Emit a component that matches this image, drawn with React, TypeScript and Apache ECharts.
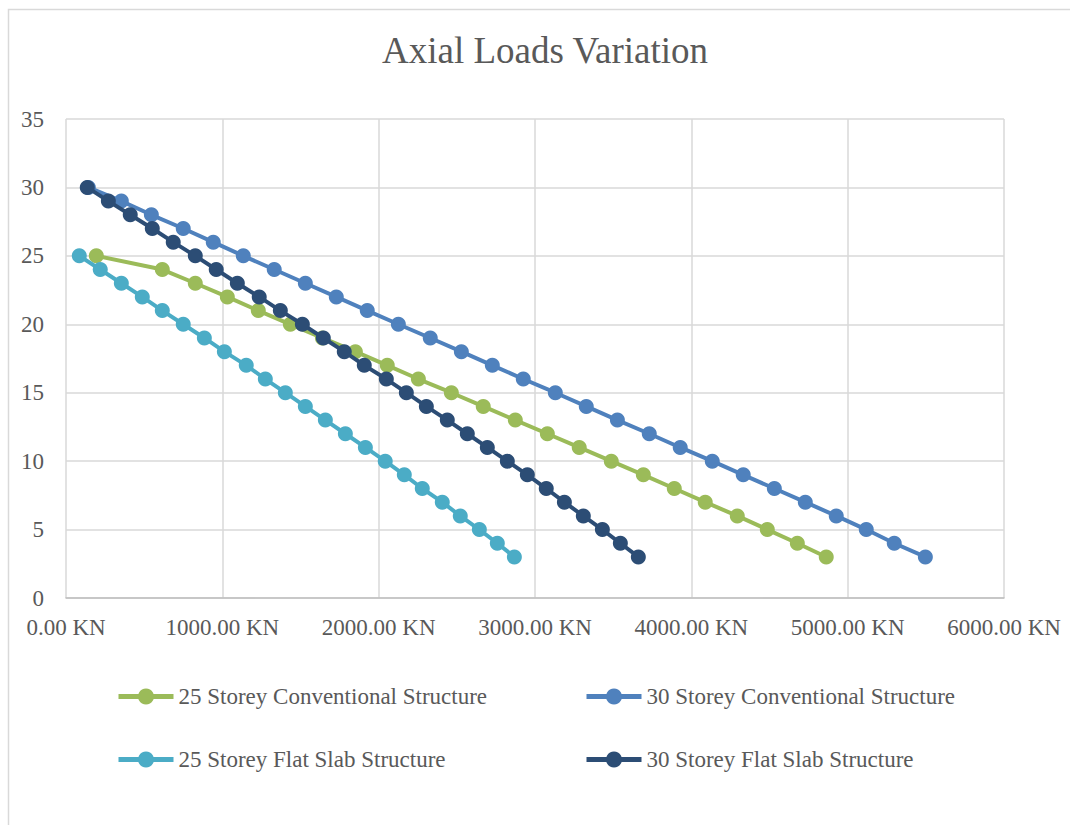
import React, { useEffect, useRef } from "react";
import * as echarts from "echarts";

const seriesNames = [
  "25 Storey Conventional Structure",
  "30 Storey Conventional Structure",
  "25 Storey Flat Slab Structure",
  "30 Storey Flat Slab Structure",
];
const seriesColors = ["#9BBB59", "#4F81BD", "#4BACC6", "#2C4D75"];

const storeys25 = [25, 24, 23, 22, 21, 20, 19, 18, 17, 16, 15, 14, 13, 12, 11, 10, 9, 8, 7, 6, 5, 4, 3];
const storeys30 = [30, 29, 28, 27, 26, 25, 24, 23, 22, 21, 20, 19, 18, 17, 16, 15, 14, 13, 12, 11, 10, 9, 8, 7, 6, 5, 4, 3];

const load25Conventional = [194, 616, 827, 1032, 1230, 1435, 1640, 1851, 2055, 2254, 2465, 2669, 2874, 3079, 3283, 3488, 3693, 3891, 4089, 4294, 4486, 4678, 4863];
const load30Conventional = [143, 354, 546, 750, 942, 1134, 1332, 1531, 1729, 1927, 2126, 2330, 2529, 2727, 2925, 3130, 3328, 3527, 3731, 3929, 4134, 4332, 4531, 4729, 4927, 5119, 5298, 5497];
const load25FlatSlab = [85, 219, 354, 488, 616, 750, 885, 1013, 1153, 1275, 1403, 1531, 1659, 1787, 1915, 2042, 2164, 2279, 2407, 2522, 2644, 2759, 2868];
const load30FlatSlab = [136, 271, 411, 552, 686, 827, 961, 1096, 1236, 1371, 1512, 1646, 1780, 1908, 2049, 2177, 2305, 2439, 2567, 2695, 2823, 2951, 3072, 3188, 3309, 3431, 3546, 3661];

const FONT = '"Liberation Serif", "Times New Roman", serif';
const TEXT = "#595959";

function pairs(xs: number[], ys: number[]) {
  return xs.map((x, i) => [x, ys[i]]);
}

export default function App() {
  const ref = useRef<HTMLDivElement>(null);
  useEffect(() => {
    if (!ref.current) return;
    const chart = echarts.init(ref.current, undefined, { renderer: "svg" });
    const datasets = [
      pairs(load25Conventional, storeys25),
      pairs(load30Conventional, storeys30),
      pairs(load25FlatSlab, storeys25),
      pairs(load30FlatSlab, storeys30),
    ];
    const legendPos = [
      { left: 111, top: 680 },
      { left: 579, top: 680 },
      { left: 111, top: 743 },
      { left: 579, top: 743 },
    ];
    chart.setOption({
      animation: false,
      backgroundColor: "#FFFFFF",
      textStyle: { fontFamily: FONT },
      graphic: [
        {
          type: "rect",
          shape: { x: 8.5, y: 9.5, width: 1200, height: 1000 },
          style: { fill: "none", stroke: "#D9D9D9", lineWidth: 1.5 },
          silent: true,
        },
        {
          type: "text",
          x: 545,
          y: 50,
          style: {
            text: "Axial Loads Variation",
            fontFamily: FONT,
            fontSize: 37,
            fill: TEXT,
            textAlign: "center",
            textVerticalAlign: "middle",
          },
        },
      ],
      legend: seriesNames.map((name, i) => ({
        data: [name],
        left: legendPos[i].left,
        top: legendPos[i].top,
        itemWidth: 55,
        itemHeight: 20,
        itemGap: 5,
        lineStyle: { width: 5 },
        textStyle: { fontFamily: FONT, fontSize: 23, color: TEXT },
      })),
      grid: { left: 66, right: 66, top: 119, bottom: 227 },
      xAxis: {
        type: "value",
        min: 0,
        max: 6000,
        interval: 1000,
        axisLine: { show: true, lineStyle: { color: "#BFBFBF", width: 1.5 } },
        axisTick: { show: false },
        splitLine: { show: true, lineStyle: { color: "#D9D9D9", width: 1.5 } },
        axisLabel: {
          margin: 18,
          fontFamily: FONT,
          fontSize: 23,
          color: TEXT,
          formatter: (v: number) => v.toFixed(2) + " KN",
        },
      },
      yAxis: {
        type: "value",
        min: 0,
        max: 35,
        interval: 5,
        axisLine: { show: false },
        axisTick: { show: false },
        splitLine: { show: true, lineStyle: { color: "#D9D9D9", width: 1.5 } },
        axisLabel: { margin: 22, fontFamily: FONT, fontSize: 23, color: TEXT },
      },
      series: seriesNames.map((name, i) => ({
        name,
        type: "line",
        data: datasets[i],
        color: seriesColors[i],
        symbol: "circle",
        symbolSize: 15,
        showSymbol: true,
        lineStyle: { width: 4, color: seriesColors[i] },
        itemStyle: { color: seriesColors[i] },
        z: 2 + i,
      })),
    });
    return () => chart.dispose();
  }, []);
  return (
    <div
      ref={ref}
      style={{ position: "fixed", left: 0, top: 0, width: 1070, height: 825 }}
    />
  );
}
